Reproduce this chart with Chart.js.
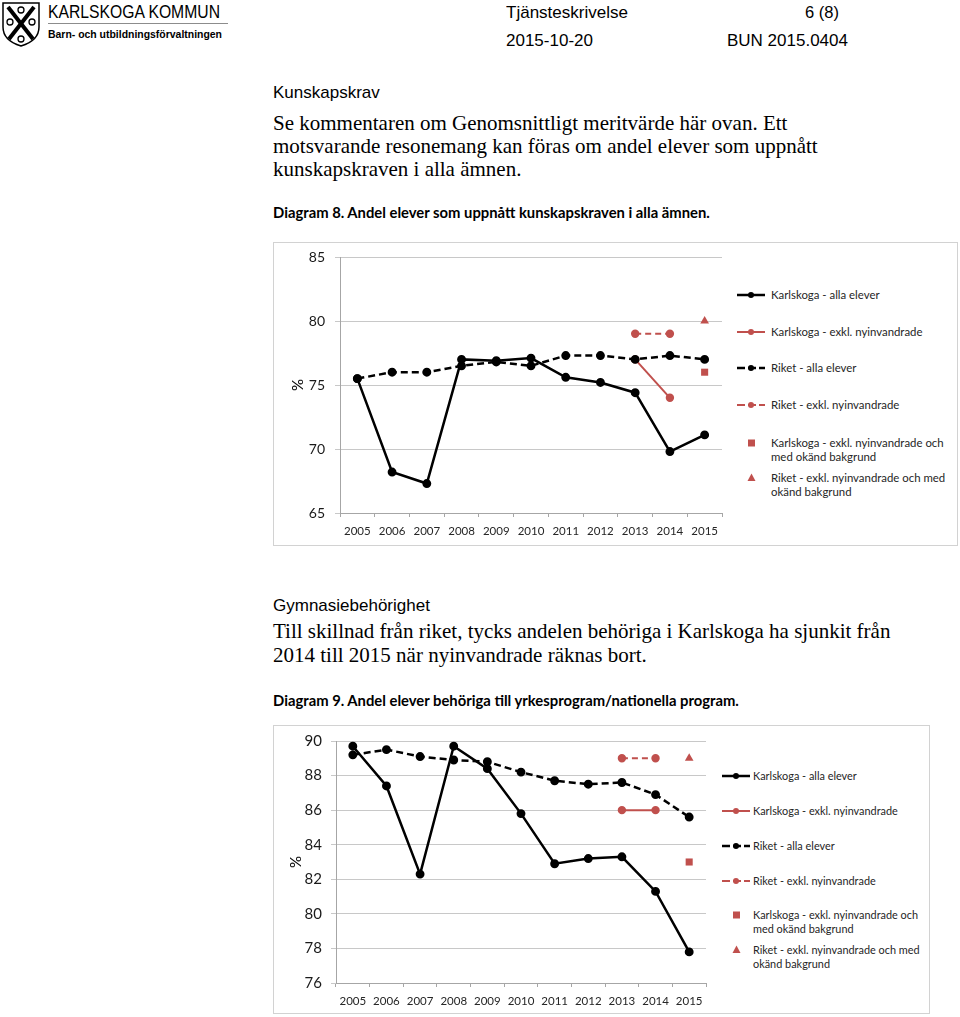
<!DOCTYPE html>
<html lang="sv">
<head>
<meta charset="UTF-8">
<title>Tjänsteskrivelse - Diagram 8 och 9</title>
<script src="https://cdn.jsdelivr.net/npm/chart.js@4.4.0/dist/chart.umd.min.js"></script>
<style>
  body {
    margin: 0;
    width: 960px;
    height: 1017px;
    position: relative;
    overflow: hidden;
    background: #fff;
    color: #000;
    font-family: "Liberation Sans", Arial, sans-serif;
  }
  .t {
    position: absolute;
    white-space: nowrap;
    line-height: 1;
    transform-origin: left center;
  }
  .serif {
    font-family: "Liberation Serif", "Times New Roman", serif;
    font-size: 21px;
  }
  .cap {
    font-family: Lato, sans-serif;
    font-weight: bold;
    font-size: 14.8px;
  }
  .box {
    position: absolute;
    border: 1px solid #d2d2d2;
    box-sizing: border-box;
  }
  canvas {
    position: absolute;
  }
  .leg {
    position: absolute;
    font-family: Lato, sans-serif;
    color: #262626;
  }
  .leg svg {
    position: absolute;
    left: 0;
    top: 0;
  }
  .leg span {
    position: absolute;
    white-space: nowrap;
    top: 0;
  }
</style>
</head>
<body>

<!-- sidhuvud -->
<svg style="position:absolute;left:1px;top:1px" width="40" height="46" viewBox="0 0 40 46">
  <path d="M2 2 H38 V26 C38 36 30 42 20 45 C10 42 2 36 2 26 Z" fill="none" stroke="#000" stroke-width="1.5"/>
  <line x1="7" y1="6" x2="32" y2="38" stroke="#000" stroke-width="4"/>
  <line x1="33" y1="6" x2="8" y2="38" stroke="#000" stroke-width="4"/>
  <circle cx="9" cy="21" r="3" fill="none" stroke="#000" stroke-width="1.3"/>
  <circle cx="31" cy="21" r="3" fill="none" stroke="#000" stroke-width="1.3"/>
  <circle cx="20" cy="9" r="3" fill="none" stroke="#000" stroke-width="1.3"/>
  <circle cx="20" cy="38" r="3" fill="none" stroke="#000" stroke-width="1.3"/>
</svg>
<div class="t" data-w="172" style="left:48px;top:4px;font-size:17.5px">KARLSKOGA KOMMUN</div>
<div style="position:absolute;left:48px;top:23px;width:180px;height:1px;background:#8c8c8c"></div>
<div class="t" data-w="174" style="left:48px;top:29px;font-size:11.5px;font-weight:bold">Barn- och utbildningsförvaltningen</div>
<div class="t" data-w="122" style="left:506px;top:4px;font-size:17px">Tjänsteskrivelse</div>
<div class="t" data-w="34" style="left:805px;top:4px;font-size:17px">6 (8)</div>
<div class="t" data-w="87" style="left:506px;top:32px;font-size:17px">2015-10-20</div>
<div class="t" data-w="121" style="left:727px;top:32px;font-size:17px">BUN 2015.0404</div>

<!-- text -->
<div class="t" style="left:273px;top:84px;font-size:17px">Kunskapskrav</div>
<div class="t serif" style="left:273px;top:113px">Se kommentaren om Genomsnittligt meritvärde här ovan. Ett</div>
<div class="t serif" style="left:273px;top:136px">motsvarande resonemang kan föras om andel elever som uppnått</div>
<div class="t serif" style="left:273px;top:159px">kunskapskraven i alla ämnen.</div>
<div class="t cap" style="left:273px;top:205px">Diagram 8. Andel elever som uppnått kunskapskraven i alla ämnen.</div>

<div class="box" style="left:273px;top:242px;width:685px;height:304px"></div>
<canvas id="diagram8" width="456" height="302" style="left:274px;top:243px;width:456px;height:302px"></canvas>

<div class="t" style="left:273px;top:597px;font-size:17px">Gymnasiebehörighet</div>
<div class="t serif" style="left:273px;top:621px">Till skillnad från riket, tycks andelen behöriga i Karlskoga ha sjunkit från</div>
<div class="t serif" style="left:273px;top:645px">2014 till 2015 när nyinvandrade räknas bort.</div>
<div class="t cap" style="left:273px;top:693px">Diagram 9. Andel elever behöriga till yrkesprogram/nationella program.</div>

<div class="box" style="left:273px;top:725px;width:657px;height:289px"></div>
<canvas id="diagram9" width="440" height="287" style="left:274px;top:726px;width:440px;height:287px"></canvas>

<script>
  // ---------------- data ----------------
  const years = ["2005", "2006", "2007", "2008", "2009", "2010", "2011", "2012", "2013", "2014", "2015"];

  const legendLabels = [
    "Karlskoga - alla elever",
    "Karlskoga - exkl. nyinvandrade",
    "Riket - alla elever",
    "Riket - exkl. nyinvandrade",
    "Karlskoga - exkl. nyinvandrade och\nmed okänd bakgrund",
    "Riket - exkl. nyinvandrade och med\nokänd bakgrund",
  ];

  // Diagram 8: andel elever som uppnått kunskapskraven i alla ämnen
  const d8KarlskogaAlla = [75.5, 68.2, 67.3, 77.0, 76.9, 77.1, 75.6, 75.2, 74.4, 69.8, 71.1];
  const d8KarlskogaExkl = [null, null, null, null, null, null, null, null, 77.0, 74.0, null];
  const d8RiketAlla = [75.5, 76.0, 76.0, 76.5, 76.8, 76.5, 77.3, 77.3, 77.0, 77.3, 77.0];
  const d8RiketExkl = [null, null, null, null, null, null, null, null, 79.0, 79.0, null];
  const d8KarlskogaOkand = [null, null, null, null, null, null, null, null, null, null, 76.0];
  const d8RiketOkand = [null, null, null, null, null, null, null, null, null, null, 80.0];
  const d8Ticks = [65, 70, 75, 80, 85];

  // Diagram 9: andel elever behöriga till yrkesprogram/nationella program
  const d9KarlskogaAlla = [89.7, 87.4, 82.3, 89.7, 88.4, 85.8, 82.9, 83.2, 83.3, 81.3, 77.8];
  const d9KarlskogaExkl = [null, null, null, null, null, null, null, null, 86.0, 86.0, null];
  const d9RiketAlla = [89.2, 89.5, 89.1, 88.9, 88.8, 88.2, 87.7, 87.5, 87.6, 86.9, 85.6];
  const d9RiketExkl = [null, null, null, null, null, null, null, null, 89.0, 89.0, null];
  const d9KarlskogaOkand = [null, null, null, null, null, null, null, null, null, null, 83.0];
  const d9RiketOkand = [null, null, null, null, null, null, null, null, null, null, 89.0];
  const d9Ticks = [76, 78, 80, 82, 84, 86, 88, 90];

  const black = "#000000";
  const red = "#c0504d";

  // text som ska ha en viss bredd (smalare typsnitt i originalet)
  document.querySelectorAll("[data-w]").forEach(function (el) {
    el.style.transform = "scaleX(" + el.dataset.w / el.getBoundingClientRect().width + ")";
  });

  function makeDatasets(series) {
    return [
      { label: legendLabels[0], data: series[0], borderColor: black, backgroundColor: black,
        borderWidth: 2.5, pointRadius: 3.2, order: 0 },
      { label: legendLabels[1], data: series[1], borderColor: red, backgroundColor: red,
        borderWidth: 2, pointRadius: 3.2, order: 1 },
      { label: legendLabels[2], data: series[2], borderColor: black, backgroundColor: black,
        borderWidth: 2.5, borderDash: [7, 4], pointRadius: 3.2, order: 0 },
      { label: legendLabels[3], data: series[3], borderColor: red, backgroundColor: red,
        borderWidth: 2, borderDash: [6, 4], pointRadius: 3.2, order: 1 },
      { label: legendLabels[4], data: series[4], borderColor: red, backgroundColor: red,
        showLine: false, pointStyle: "rect", pointRadius: 5, order: 1 },
      { label: legendLabels[5], data: series[5], borderColor: red, backgroundColor: red,
        showLine: false, pointStyle: "triangle", pointRadius: 5, order: 1 },
    ];
  }

  function makeChart(id, series, ticks, o) {
    return new Chart(document.getElementById(id), {
      type: "line",
      data: { labels: years, datasets: makeDatasets(series) },
      options: {
        responsive: false,
        animation: false,
        events: [],
        spanGaps: false,
        elements: { line: { tension: 0 }, point: { borderWidth: 0 } },
        layout: { padding: { top: o.padTop, right: o.padRight, bottom: 0, left: 0 } },
        plugins: { legend: { display: false }, tooltip: { enabled: false } },
        scales: {
          x: {
            offset: true,
            grid: { offset: true, drawOnChartArea: false, tickLength: 4, color: "#a6a6a6" },
            border: { color: "#a6a6a6" },
            ticks: {
              autoSkip: false,
              maxRotation: 0,
              padding: 7,
              color: "#262626",
              font: { family: "Lato", size: 11.5 },
            },
            afterFit: function (s) { s.height = o.xHeight; },
          },
          y: {
            min: ticks[0],
            max: ticks[ticks.length - 1],
            afterBuildTicks: function (s) {
              s.ticks = ticks.map(function (v) { return { value: v }; });
            },
            grid: { color: "#c8c8c8", tickLength: 5 },
            border: { color: "#a6a6a6" },
            ticks: {
              padding: o.tickPad,
              color: "#1a1a1a",
              font: { family: "Lato", size: o.yFont },
            },
            title: {
              display: true,
              text: "%",
              color: "#000",
              font: { family: "Lato", size: 15 },
              padding: { top: o.titlePad, bottom: 0 },
            },
            afterFit: function (s) {
              s.width = o.yWidth;
              // plotytan styrs av layout.padding, inte av etiketterna
              s.paddingTop = 0;
              s.paddingBottom = 0;
            },
          },
        },
      },
    });
  }

  // egen förklaring till höger om diagrammet
  function makeLegend(chart, swatchLeft, textLeft, centers, fontSize) {
    chart.data.datasets.forEach(function (ds, i) {
      const item = document.createElement("div");
      item.className = "leg";
      item.style.left = swatchLeft + "px";
      item.style.top = centers[i] - 7 + "px";
      item.style.fontSize = fontSize + "px";

      let svg = '<svg width="28" height="14">';
      if (ds.showLine !== false) {
        svg += '<line x1="0" y1="7" x2="28" y2="7" stroke="' + ds.borderColor +
          '" stroke-width="' + ds.borderWidth + '"' +
          (ds.borderDash ? ' stroke-dasharray="8,3"' : "") + "/>";
      }
      if (ds.pointStyle === "rect") {
        svg += '<rect x="11" y="3.5" width="7" height="7" fill="' + ds.backgroundColor + '"/>';
      } else if (ds.pointStyle === "triangle") {
        svg += '<polygon points="14.5,2.5 18.5,10 10.5,10" fill="' + ds.backgroundColor + '"/>';
      } else {
        svg += '<circle cx="14" cy="7" r="3" fill="' + ds.backgroundColor + '"/>';
      }
      svg += "</svg>";

      const text = document.createElement("span");
      text.style.left = textLeft - swatchLeft + "px";
      text.style.lineHeight = "14px";
      text.innerHTML = ds.label.replace("\n", "<br>");

      item.innerHTML = svg;
      item.appendChild(text);
      document.body.appendChild(item);
    });
  }

  const chart8 = makeChart("diagram8",
    [d8KarlskogaAlla, d8KarlskogaExkl, d8RiketAlla, d8RiketExkl, d8KarlskogaOkand, d8RiketOkand],
    d8Ticks,
    { padTop: 14, padRight: 8, xHeight: 32, yWidth: 66, tickPad: 10, yFont: 14, titlePad: 15 });

  const chart9 = makeChart("diagram9",
    [d9KarlskogaAlla, d9KarlskogaExkl, d9RiketAlla, d9RiketExkl, d9KarlskogaOkand, d9RiketOkand],
    d9Ticks,
    { padTop: 15, padRight: 8, xHeight: 30, yWidth: 62, tickPad: 9, yFont: 15, titlePad: 13 });

  makeLegend(chart8, 737, 771, [295, 332, 368, 405, 443, 478], 11.4);
  makeLegend(chart9, 722, 753, [776, 811, 846, 881, 915, 950], 10.9);
</script>
</body>
</html>
